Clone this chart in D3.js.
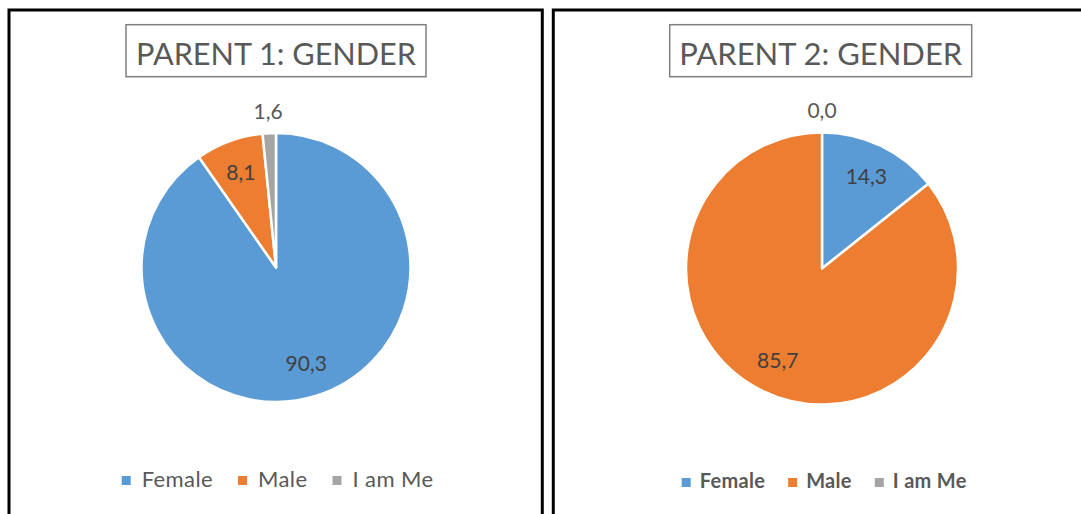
<!DOCTYPE html>
<html>
<head>
<meta charset="utf-8">
<script src="https://cdn.jsdelivr.net/npm/d3@7"></script>
<style>
  html, body { margin: 0; padding: 0; background: #ffffff; }
  svg { display: block; }
</style>
</head>
<body>
<svg id="chart" width="1081" height="514"></svg>
<script>
// ---- data ----
const categories = ["Female", "Male", "I am Me"];
const parent1Values = [90.3, 8.1, 1.6];
const parent2Values = [14.3, 85.7, 0.0];
const titles = ["PARENT 1: GENDER", "PARENT 2: GENDER"];
const colors = ["#5B9BD5", "#ED7D31", "#A5A5A5"];

// ---- drawing ----
const svg = d3.select("#chart");
const FONT = "Lato, 'Open Sans', sans-serif";

const panels = [
  { values: parent1Values, title: titles[0], x0: 9, x1: 542.3, cx: 276, cy: 267.5, r: 134.5,
    titleBox: [126, 24.7, 300, 52], titleTextLen: 280,
    legend: { start: 121.7, base: 486.7, sqTop: 476, size: 22, weight: 400, spacing: 0.4, sqGap: 11, itemGap: 25 } },
  { values: parent2Values, title: titles[1], x0: 553.3, x1: 1100, cx: 822, cy: 268.5, r: 136,
    titleBox: [669.7, 24.7, 302, 52], titleTextLen: 283,
    legend: { start: 681.7, base: 488.3, sqTop: 478, size: 20, weight: 700, spacing: 0.3, sqGap: 9, itemGap: 23 } }
];

panels.forEach(p => {
  const g = svg.append("g");
  // panel border
  g.append("rect")
    .attr("x", p.x0).attr("y", 10)
    .attr("width", p.x1 - p.x0).attr("height", 520)
    .attr("fill", "#fff").attr("stroke", "#000").attr("stroke-width", 3);

  // title box
  const [bx, by, bw, bh] = p.titleBox;
  g.append("rect")
    .attr("x", bx).attr("y", by).attr("width", bw).attr("height", bh)
    .attr("fill", "#fff").attr("stroke", "#808080").attr("stroke-width", 1.5);
  g.append("text")
    .attr("x", bx + bw / 2).attr("y", 64.5)
    .attr("text-anchor", "middle")
    .attr("font-family", FONT).attr("font-size", 31)
    .attr("fill", "#595959")
    .attr("textLength", p.titleTextLen).attr("lengthAdjust", "spacingAndGlyphs")
    .text(p.title);

  // pie
  const data = categories.map((c, i) => ({ cat: c, value: p.values[i], color: colors[i] }));
  const pie = d3.pie().sort(null).value(d => d.value);
  const arcs = pie(data);
  const arc = d3.arc().innerRadius(0).outerRadius(p.r);
  const pg = g.append("g").attr("transform", `translate(${p.cx},${p.cy})`);
  pg.selectAll("path.slice")
    .data(arcs.filter(a => a.data.value > 0))
    .join("path")
    .attr("class", "slice")
    .attr("d", arc)
    .attr("fill", d => d.data.color)
    .attr("stroke", "#fff").attr("stroke-width", 2.5).attr("stroke-linejoin", "round");

  const inArc = d3.arc().innerRadius(p.r * 0.75).outerRadius(p.r * 0.75);
  const outArc = d3.arc().innerRadius(p.r * 1.16).outerRadius(p.r * 1.16);
  pg.selectAll("text.lbl")
    .data(arcs)
    .join("text")
    .attr("class", "lbl")
    .attr("transform", d => {
      const small = (d.endAngle - d.startAngle) < 0.2;
      const c = (small ? outArc : inArc).centroid(d);
      return `translate(${c[0]},${c[1]})`;
    })
    .attr("text-anchor", "middle")
    .attr("dy", "0.36em")
    .attr("font-family", FONT).attr("font-size", 21)
    .attr("fill", d => (d.endAngle - d.startAngle) < 0.2 ? "#595959" : "#404040")
    .text(d => d3.format(".1f")(d.data.value).replace(".", ","));

  // legend
  const L = p.legend;
  const lg = g.append("g");
  const items = lg.selectAll("g.item").data(data).join("g").attr("class", "item");
  items.append("rect").attr("width", 9).attr("height", 9)
    .attr("fill", d => d.color);
  items.append("text")
    .attr("font-family", FONT).attr("font-size", L.size)
    .attr("font-weight", L.weight)
    .attr("letter-spacing", L.spacing)
    .attr("fill", "#595959")
    .text(d => d.cat);
  let x = L.start;
  items.each(function () {
    const it = d3.select(this);
    const w = it.select("text").node().getComputedTextLength();
    it.select("rect").attr("x", x).attr("y", L.sqTop);
    it.select("text").attr("x", x + 9 + L.sqGap).attr("y", L.base);
    x += 9 + L.sqGap + w + L.itemGap;
  });
});
</script>
</body>
</html>
